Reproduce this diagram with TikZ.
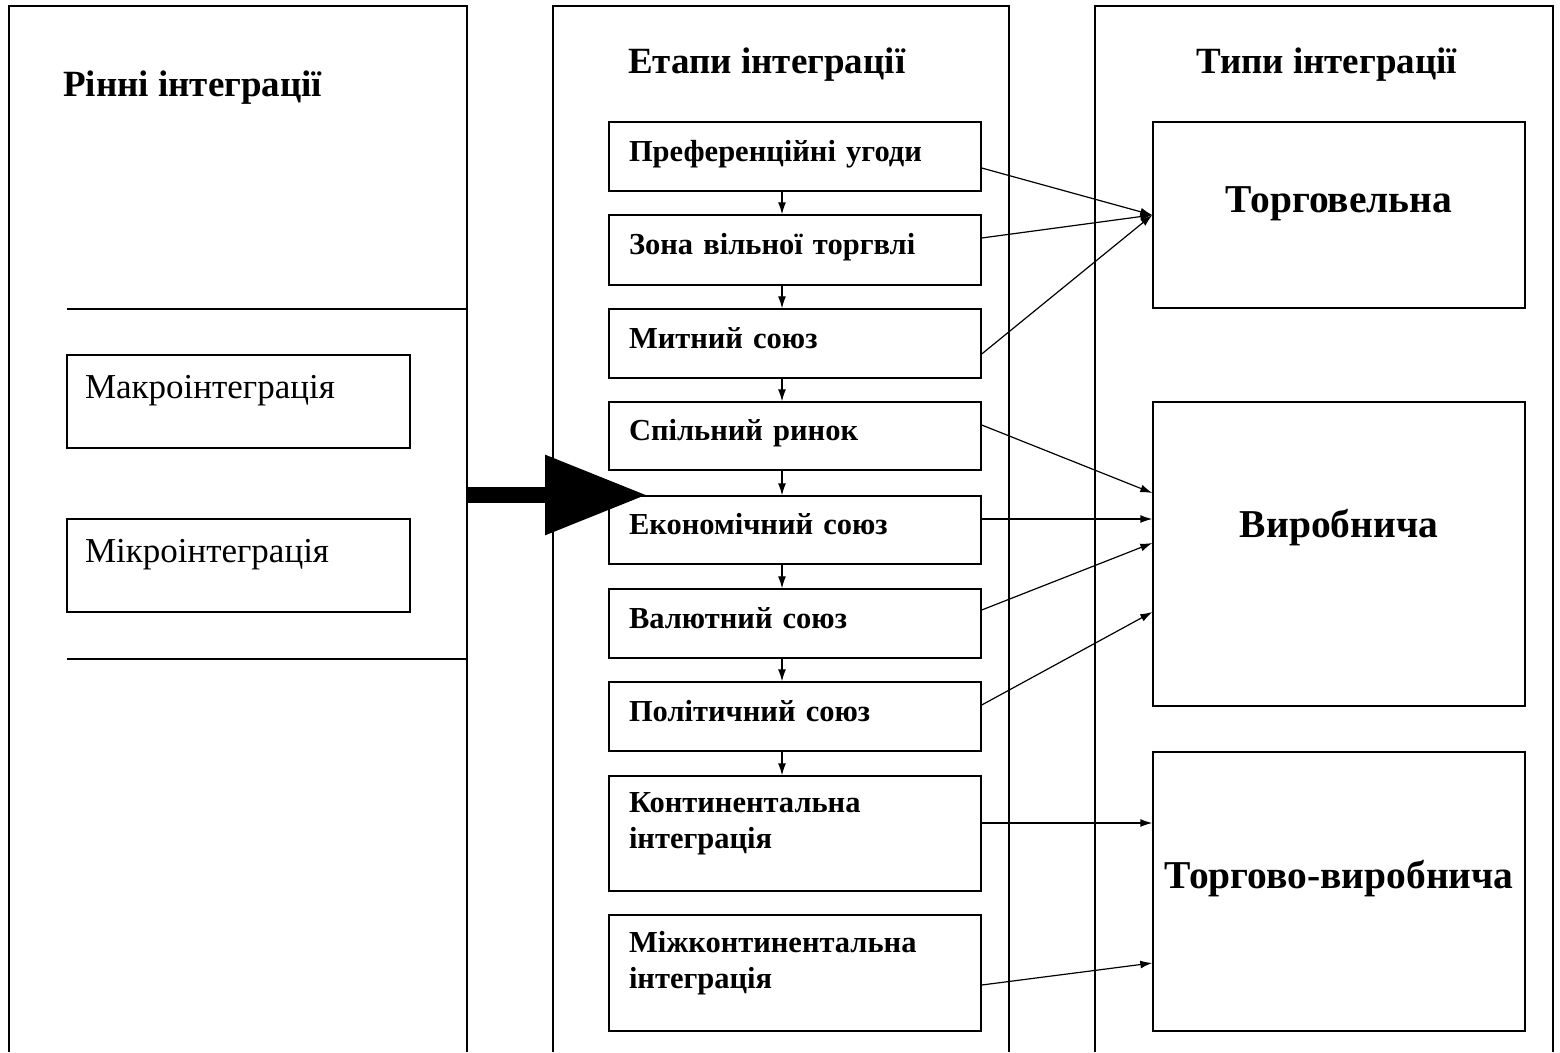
\documentclass[tikz,border=0pt]{standalone}
\usepackage{fontspec}
\setmainfont{Liberation Serif}
\usetikzlibrary{arrows.meta}

\begin{document}
\begin{tikzpicture}[
    x=1pt, y=-1pt,
    every node/.style={align=left},
    column/.style={line width=1.3pt},
    header/.style={anchor=west, inner xsep=0pt, font=\fontsize{37}{40}\selectfont\bfseries},
    level/.style={rectangle, draw, line width=1.4pt, minimum width=343pt, minimum height=93pt, inner xsep=18pt, text width=307pt, text depth=30pt, font=\fontsize{35}{40}\selectfont},
    stage/.style={rectangle, draw, line width=1.4pt, minimum width=372pt, minimum height=69pt, inner xsep=20pt, text width=332pt, text depth=12pt, font=\fontsize{30.5}{36}\selectfont\bfseries},
    typebox/.style={rectangle, draw, line width=1.4pt, minimum width=372pt, align=center, font=\fontsize{39.5}{48}\selectfont\bfseries},
    link/.style={line width=1.2pt, -{Latex[length=12pt,width=8pt]}}
]
\useasboundingbox (0,0) rectangle (1560,1052);

% Columns
\draw[column] (9,1052) -- (9,6) -- (467,6) -- (467,1052);
\draw[column] (553,1052) -- (553,6) -- (1009,6) -- (1009,1052);
\draw[column] (1095,1052) -- (1095,6) -- (1553,6) -- (1553,1052);
\draw[column] (67,309) -- (467,309);
\draw[column] (67,659) -- (467,659);

% Headers
\node[header] (h1) at (63,88) {Рінні інтеграції};
\node[header] (h2) at (628,65) {Етапи інтеграції};
\node[header] (h3) at (1196,65) {Типи інтеграції};

% Levels
\node[level] (l1) at (238.5,401.5) {Макроінтеграція};
\node[level] (l2) at (238.5,565.5) {Мікроінтеграція};

% Stages
\node[stage] (e1) at (795,156.5) {Преференційні угоди};
\node[stage, minimum height=70pt] (e2) at (795,250) {Зона вільної торгвлі};
\node[stage] (e3) at (795,343.5) {Митний союз};
\node[stage, minimum height=68pt] (e4) at (795,436) {Спільний ринок};
\node[stage, minimum height=68pt] (e5) at (795,530) {Економічний союз};
\node[stage] (e6) at (795,623.5) {Валютний союз};
\node[stage] (e7) at (795,716.5) {Політичний союз};
\node[stage, minimum height=115pt, text depth=62pt] (e8) at (795,833.5) {Континентальна\\інтеграція};
\node[stage, minimum height=116pt, text depth=62pt] (e9) at (795,973) {Міжконтинентальна\\інтеграція};

% Types
\node[typebox, minimum height=186pt, text depth=30pt] (t1) at (1339,215) {Торговельна};
\node[typebox, minimum height=304pt, text depth=62pt] (t2) at (1339,554) {Виробнича};
\node[typebox, minimum height=279pt, text depth=34pt] (t3) at (1339,891.5) {Торгово-виробнича};

% Big arrow
\coordinate (lv) at (467,495);
\coordinate (st) at (647,495);
\draw[line width=16pt, -{Triangle[length=102pt,width=76pt]}] (lv) -- (st);

% Arrows
\draw[link] ([xshift=-13pt]e1.south) -- ([xshift=-13pt]e2.north);
\draw[link] ([xshift=-13pt]e2.south) -- ([xshift=-13pt]e3.north);
\draw[link] ([xshift=-13pt]e3.south) -- ([xshift=-13pt]e4.north);
\draw[link] ([xshift=-13pt]e4.south) -- ([xshift=-13pt]e5.north);
\draw[link] ([xshift=-13pt]e5.south) -- ([xshift=-13pt]e6.north);
\draw[link] ([xshift=-13pt]e6.south) -- ([xshift=-13pt]e7.north);
\draw[link] ([xshift=-13pt]e7.south) -- ([xshift=-13pt]e8.north);
\draw[link] ([yshift=-11.5pt]e1.east) -- (t1.west);
\draw[link] ([yshift=12pt]e2.east) -- (t1.west);
\draw[link] ([yshift=-10.5pt]e3.east) -- (t1.west);
\draw[link] ([yshift=11pt]e4.east) -- ([yshift=61pt]t2.west);
\draw[link] ([yshift=11pt]e5.east) -- ([yshift=35pt]t2.west);
\draw[link] ([yshift=13.5pt]e6.east) -- ([yshift=11pt]t2.west);
\draw[link] ([yshift=11.5pt]e7.east) -- ([yshift=-58pt]t2.west);
\draw[link] ([yshift=10.5pt]e8.east) -- ([yshift=68.5pt]t3.west);
\draw[link] ([yshift=-12pt]e9.east) -- ([yshift=-71.5pt]t3.west);

\end{tikzpicture}
\end{document}
